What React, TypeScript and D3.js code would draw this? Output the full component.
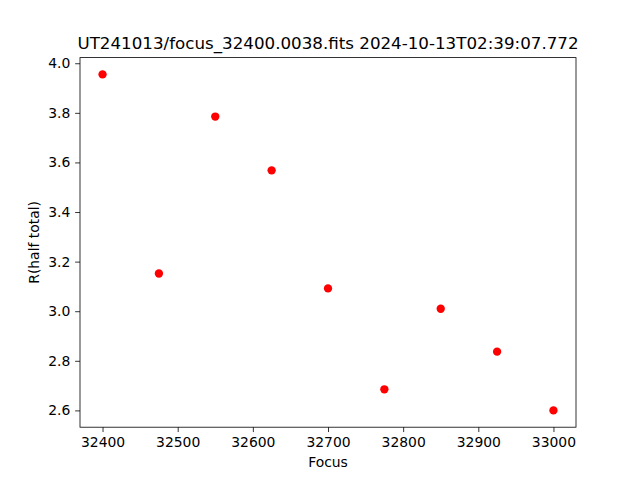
import React, { useEffect, useRef } from 'react';
import * as d3 from 'd3';

const focus = [32400, 32475, 32550, 32625, 32700, 32775, 32850, 32925, 33000];
const rHalf = [3.955, 3.152, 3.785, 3.568, 3.092, 2.685, 3.01, 2.837, 2.6];
const xTicks = [32400, 32500, 32600, 32700, 32800, 32900, 33000];
const yTicks = [2.6, 2.8, 3.0, 3.2, 3.4, 3.6, 3.8, 4.0];
const TITLE = 'UT241013/focus_32400.0038.fits 2024-10-13T02:39:07.772';

export default function App() {
  const svgRef = useRef<SVGSVGElement>(null);

  useEffect(() => {
    const width = 640;
    const height = 480;
    const margin = { top: 57.6, right: 64, bottom: 52.8, left: 80 };
    const innerW = width - margin.left - margin.right;
    const innerH = height - margin.top - margin.bottom;
    const font = 'DejaVu Sans, sans-serif';

    const svg = d3.select(svgRef.current);
    svg.selectAll('*').remove();
    svg.attr('width', width).attr('height', height)
      .style('display', 'block').style('position', 'absolute').style('left', '0px').style('top', '0px');
    svg.append('rect').attr('width', width).attr('height', height).attr('fill', 'white');

    // matplotlib-style 5% margins
    const [x0, x1] = d3.extent(focus) as [number, number];
    const [y0, y1] = d3.extent(rHalf) as [number, number];
    const xPad = (x1 - x0) * 0.05;
    const yPad = (y1 - y0) * 0.05;
    const x = d3.scaleLinear().domain([x0 - xPad, x1 + xPad]).range([margin.left, margin.left + innerW]);
    const y = d3.scaleLinear().domain([y0 - yPad, y1 + yPad]).range([margin.top + innerH, margin.top]);

    const tickLen = 4.86;
    const xAxis = d3.axisBottom(x).tickValues(xTicks).tickFormat(d3.format('d')).tickSize(tickLen).tickPadding(4.86);
    const yAxis = d3.axisLeft(y).tickValues(yTicks).tickFormat(d3.format('.1f')).tickSize(tickLen).tickPadding(4.86);

    const gx = svg.append('g').attr('transform', `translate(0,${margin.top + innerH})`).call(xAxis);
    const gy = svg.append('g').attr('transform', `translate(${margin.left},0)`).call(yAxis);
    [gx, gy].forEach(g => {
      g.select('.domain').remove();
      g.selectAll('line').attr('stroke', 'black').attr('stroke-width', 0.8);
      g.selectAll('text').style('font-family', font).style('font-size', '13.9px').attr('fill', 'black');
    });

    svg.selectAll('circle.pt').data(focus).enter().append('circle')
      .attr('class', 'pt')
      .attr('cx', d => x(d))
      .attr('cy', (_d, i) => y(rHalf[i]))
      .attr('r', 4.17)
      .attr('fill', 'red');

    svg.append('rect')
      .attr('x', margin.left).attr('y', margin.top)
      .attr('width', innerW).attr('height', innerH)
      .attr('fill', 'none').attr('stroke', 'black').attr('stroke-width', 0.8);

    svg.append('text').attr('x', margin.left + innerW / 2).attr('y', margin.top - 8.3)
      .attr('text-anchor', 'middle').style('font-family', font).style('font-size', '16.7px')
      .text(TITLE);

    svg.append('text').attr('x', margin.left + innerW / 2).attr('y', 467)
      .attr('text-anchor', 'middle').style('font-family', font).style('font-size', '13.9px')
      .text('Focus');

    svg.append('text').attr('transform', `translate(39,${margin.top + innerH / 2}) rotate(-90)`)
      .attr('text-anchor', 'middle').style('font-family', font).style('font-size', '13.9px')
      .text('R(half total)');
  }, []);

  return <svg ref={svgRef}></svg>;
}
